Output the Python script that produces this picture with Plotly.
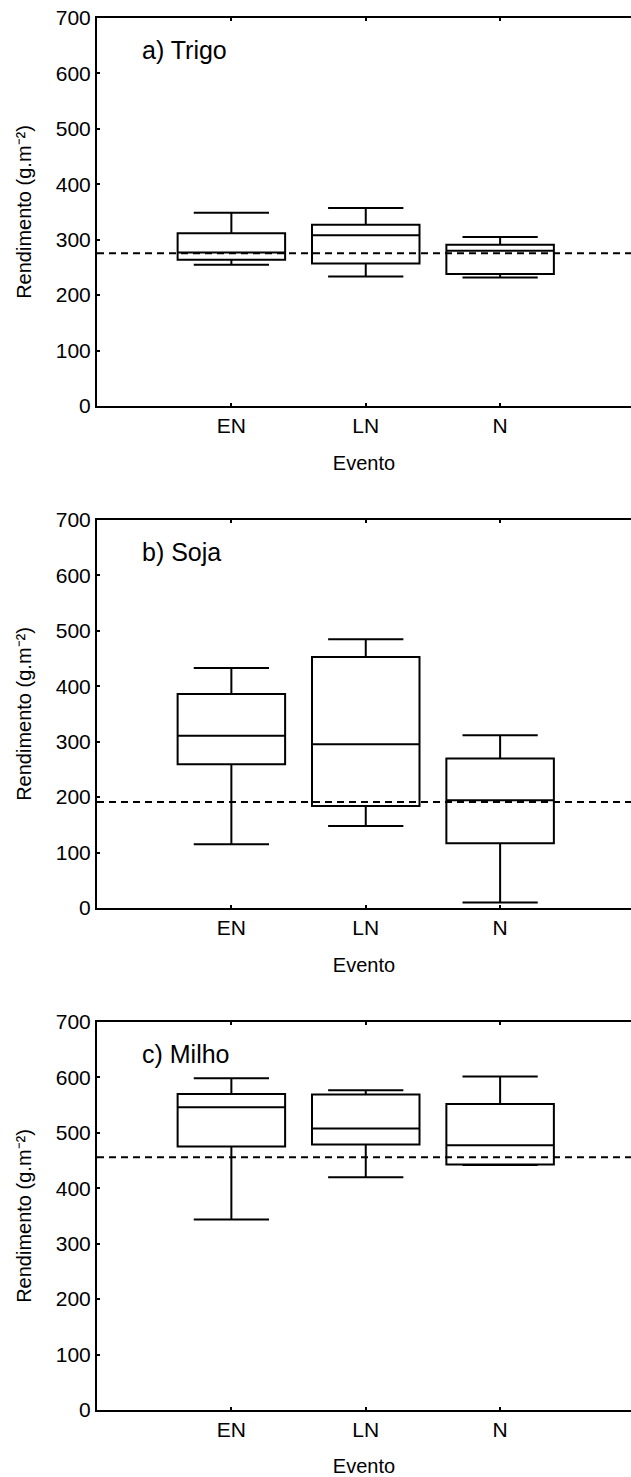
import plotly.graph_objects as go

# ---------------- data ----------------
eventos = ["EN", "LN", "N"]
y_ticks = [0, 100, 200, 300, 400, 500, 600, 700]

painel_titulos = ["a) Trigo", "b) Soja", "c) Milho"]

trigo_q1 = [263.8, 257.0, 238.0]
trigo_med = [277.0, 308.0, 280.0]
trigo_q3 = [311.5, 327.0, 291.0]
trigo_min = [254.8, 233.8, 232.0]
trigo_max = [348.7, 357.0, 304.8]
trigo_media = 275.4

soja_q1 = [259.5, 184.0, 116.8]
soja_med = [310.6, 295.6, 194.5]
soja_q3 = [385.9, 453.0, 269.8]
soja_min = [115.0, 148.0, 10.0]
soja_max = [432.8, 485.0, 311.8]
soja_media = 191.4

milho_q1 = [475.6, 479.0, 442.8]
milho_med = [546.0, 508.0, 477.6]
milho_q3 = [570.0, 569.0, 552.0]
milho_min = [343.8, 420.0, 442.0]
milho_max = [598.6, 577.0, 601.7]
milho_media = 455.8

paineis = [
    (trigo_q1, trigo_med, trigo_q3, trigo_min, trigo_max, trigo_media),
    (soja_q1, soja_med, soja_q3, soja_min, soja_max, soja_media),
    (milho_q1, milho_med, milho_q3, milho_min, milho_max, milho_media),
]

# ---------------- layout geometry ----------------
W, H = 631, 1477
ML, MT, MB = 97, 18, 67
plot_h = H - MT - MB
panel_h = 388
tops_px = [18, 520, 1022]

FONT = "Liberation Sans, Arial, sans-serif"

fig = go.Figure()

layout = dict(
    width=W, height=H,
    margin=dict(l=ML, r=0, t=MT, b=MB, pad=0),
    paper_bgcolor="white", plot_bgcolor="white",
    showlegend=False,
    font=dict(family=FONT, color="black", size=21),
)

annotations = []
shapes = []

for i, (q1, med, q3, lo, hi, media) in enumerate(paineis):
    n = i + 1
    xa = "x" if n == 1 else f"x{n}"
    ya = "y" if n == 1 else f"y{n}"
    top = tops_px[i]
    bot = top + panel_h
    d0 = (H - MB - bot) / plot_h
    d1 = (H - MB - top) / plot_h

    fig.add_trace(go.Box(
        x=eventos, q1=q1, median=med, q3=q3,
        lowerfence=lo, upperfence=hi,
        width=0.8, whiskerwidth=0.7,
        fillcolor="white",
        line=dict(color="black", width=2),
        boxpoints=False, hoverinfo="skip",
        xaxis=xa, yaxis=ya,
    ))

    layout["xaxis" if n == 1 else f"xaxis{n}"] = dict(
        domain=[0, 1], anchor=ya,
        type="category", categoryorder="array", categoryarray=eventos,
        range=[-1, 2.974],
        showline=True, linecolor="black", linewidth=2, mirror="ticks",
        ticks="inside", ticklen=3, tickwidth=2, tickcolor="black",
        showgrid=False, zeroline=False, automargin=False,
        tickfont=dict(size=21, family=FONT, color="black"),
        title=dict(text="Evento", standoff=20,
                   font=dict(size=20, family=FONT, color="black")),
    )
    layout["yaxis" if n == 1 else f"yaxis{n}"] = dict(
        domain=[d0, d1], anchor=xa,
        range=[0, 700],
        tickmode="array", tickvals=y_ticks, ticktext=[str(v) for v in y_ticks],
        showline=True, linecolor="black", linewidth=2, mirror=False,
        ticks="inside", ticklen=3, tickwidth=2, tickcolor="black",
        showgrid=False, zeroline=False, automargin=False,
        tickfont=dict(size=21, family=FONT, color="black"),
        title=dict(text="Rendimento (g.m\u207b\u00b2)", standoff=19,
                   font=dict(size=20, family=FONT, color="black")),
    )

    shapes.append(dict(
        type="line", xref=f"{xa} domain", yref=ya,
        x0=0, x1=1, y0=media, y1=media,
        line=dict(color="black", width=2, dash="7px,5px"),
        layer="above",
    ))

    annotations.append(dict(
        text=painel_titulos[i], xref=f"{xa} domain", yref=f"{ya} domain",
        x=(140 - ML) / (W - ML), y=1 - 32 / panel_h,
        xanchor="left", yanchor="middle", showarrow=False,
        font=dict(size=25, family=FONT, color="black"),
    ))

layout["annotations"] = annotations
layout["shapes"] = shapes
fig.update_layout(**layout)

fig.write_html("out.html")
